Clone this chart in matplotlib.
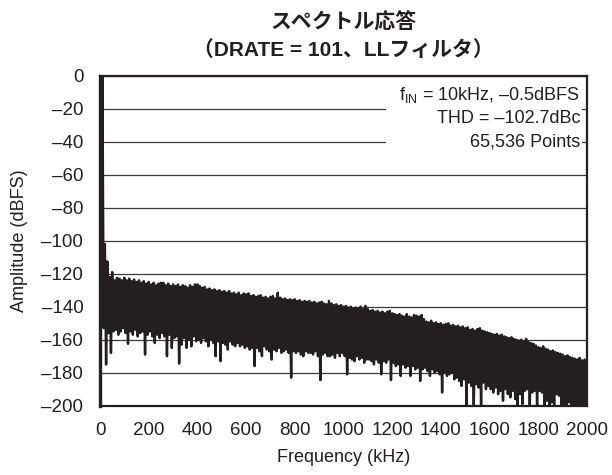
import numpy as np
import matplotlib
matplotlib.use("Agg")
import matplotlib.pyplot as plt
from matplotlib.patches import Rectangle

plt.rcParams["font.family"] = ["Liberation Sans", "Noto Sans CJK JP", "DejaVu Sans"]
plt.rcParams["mathtext.fontset"] = "custom"
plt.rcParams["mathtext.rm"] = "Liberation Sans"
plt.rcParams["mathtext.it"] = "Liberation Sans"

INK = "#231f20"

# FFT spectrum, one column every 10 kHz: the highest bin (peak) and the
# lowest bin (trough, half a column later) inside that column.
bin_start_khz = np.arange(0, 2001, 10)

peak_dbfs = [
    -115, -0.5, -102, -112.5, -122, -119, -124, -122.5, -123, -124,
    -122.5, -124, -123, -124.5, -123.5, -125, -124, -125.5, -124.5, -126,
    -125, -126.5, -125.5, -127, -126, -125.5, -125.5, -127, -126, -127.5,
    -126.5, -127.5, -126.5, -128, -127, -127.5, -128.5, -127, -128, -126.5,
    -126.5, -127.5, -128.5, -128, -129.5, -129, -130, -129.5, -130.5, -130,
    -131, -130.5, -131.5, -130.5, -132, -131.5, -132.5, -131.5, -133, -132,
    -132.5, -132, -133.5, -133, -134, -133.5, -133, -134.5, -134, -135,
    -134, -133.5, -135, -131.5, -134.5, -135.5, -135, -136, -135.5, -136,
    -135.5, -136.5, -136, -137, -136.5, -137, -136.5, -137.5, -137, -138,
    -137.5, -137, -138, -138.5, -136.5, -138, -139, -138.5, -139.5, -139,
    -140, -139.5, -140.5, -140, -141, -140.5, -141, -140, -141.5, -139.5,
    -141.5, -142.5, -142, -143, -142.5, -143.5, -143, -144, -143, -142.5,
    -144, -144.5, -145, -144.5, -145.5, -146, -144.5, -146, -146.5, -145,
    -145.5, -146, -145, -147.5, -149, -149.5, -148.5, -150, -149.5, -150.5,
    -150, -151, -150.5, -150, -151.5, -151, -152, -151.5, -152.5, -152,
    -153, -152.5, -154, -153.5, -154.5, -153.5, -153, -154.5, -155, -155.5,
    -156, -156.5, -157, -156.5, -157.5, -157, -158, -158.5, -159, -158.5,
    -159.5, -160, -160.5, -160, -161, -159.5, -161.5, -162, -162.5, -163.5,
    -164.5, -165, -164, -165.5, -166, -167, -166.5, -167.5, -168, -168.5,
    -169, -170, -169.5, -170.5, -171, -171.5, -172, -171, -172.5, -172,
    -172.5,
]

trough_dbfs = [
    -150, -153, -175, -156, -168, -155, -154, -157, -155, -153,
    -156, -162.5, -155, -157, -154, -158, -156, -155, -169, -157,
    -155, -158, -162, -157, -159, -156, -158, -170, -157, -165,
    -159, -158, -174.5, -163, -159, -165, -160, -164, -158, -161,
    -160, -162, -159, -161, -164, -160, -162, -170, -161, -173,
    -162, -163, -166, -161, -163, -164, -162, -164, -163, -165,
    -164, -166, -165, -176, -165, -167, -170, -164, -166, -167,
    -172, -166, -167, -165, -168, -167, -166, -168, -183, -167,
    -168, -167, -169, -170, -167, -168, -168, -169, -167, -170,
    -184.5, -169, -168, -170, -170, -169, -171, -168, -170, -168,
    -170, -181, -171, -172, -173, -170, -172, -171, -174, -172,
    -172, -173, -175, -172, -174, -181, -173, -174, -172, -184.5,
    -174, -176, -175, -182, -175, -177, -176, -182, -176, -178,
    -177, -185, -178, -177, -179, -182, -178, -180, -179, -181,
    -192, -180, -182, -181, -180, -184, -183, -185, -188, -184,
    -200, -186, -188, -200, -187, -189, -200, -186, -190, -188,
    -190, -192, -189, -193, -191, -197, -190, -193, -195, -191,
    -196, -200, -193, -199, -191, -190, -200, -192, -191, -200,
    -191, -192, -200, -197, -200, -198, -200, -193, -194, -200,
    -200, -200, -198, -200, -200, -200, -199, -200, -200, -200,
    -200,
]

x_ticks = [0, 200, 400, 600, 800, 1000, 1200, 1400, 1600, 1800, 2000]
y_ticks = [0, -20, -40, -60, -80, -100, -120, -140, -160, -180, -200]

title_lines = ["スペクトル応答", "（DRATE = 101、LLフィルタ）"]
notes = [r"$\mathrm{f}_{\mathrm{IN}}$ = 10kHz, –0.5dBFS",
         "THD = –102.7dBc",
         "65,536 Points"]

# interleave peak / trough so the trace zig-zags through each column
n = len(bin_start_khz)
trace_x = np.empty(2 * n)
trace_y = np.empty(2 * n)
trace_x[0::2] = bin_start_khz
trace_x[1::2] = bin_start_khz + 5
trace_y[0::2] = peak_dbfs
trace_y[1::2] = trough_dbfs

fig = plt.figure(figsize=(6.12, 4.75), dpi=100)
ax = fig.add_axes([100 / 612, 1 - 405.7 / 475, 487 / 612, 330 / 475])

ax.plot(trace_x, trace_y, color=INK, lw=1.75, zorder=3)

ax.set_xlim(0, 2000)
ax.set_ylim(-200, 0)
ax.set_xticks(x_ticks)
ax.set_yticks(y_ticks)
ax.set_yticklabels([f"{v}".replace("-", "\u2013") for v in y_ticks])
ax.tick_params(axis="both", length=0, labelsize=13.5, colors=INK)
ax.tick_params(axis="x", pad=12)
ax.tick_params(axis="y", pad=12)

ax.set_axisbelow(True)
ax.yaxis.grid(True, color="#3a3a3a", lw=0.9)
ax.xaxis.grid(False)

for side, lw in (("left", 2.4), ("right", 1.6), ("top", 1.6), ("bottom", 1.6)):
    ax.spines[side].set_linewidth(lw)
    ax.spines[side].set_color(INK)

# white panel behind the measurement notes
ax.add_patch(Rectangle((1175, -52), 804, 49, facecolor="white",
                       edgecolor="none", zorder=1.5))
for i, line in enumerate(notes):
    ax.text(1972, -11.7 - 14.2 * i, line, ha="right", va="center",
            fontsize=13, color=INK, zorder=4)

ax.set_xlabel("Frequency (kHz)", fontsize=13, color=INK)
ax.set_ylabel("Amplitude (dBFS)", fontsize=13, color=INK)
ax.xaxis.set_label_coords(0.5, -(449 - 405.7) / 330)
ax.yaxis.set_label_coords((28 - 100) / 487, 0.5)

fig.text(343.5 / 612, 1 - 23 / 475, title_lines[0], ha="center", va="center",
         fontsize=15, fontweight="bold", color=INK)
fig.text(343.5 / 612, 1 - 50 / 475, title_lines[1], ha="center", va="center",
         fontsize=15, fontweight="bold", color=INK)

fig.savefig("out.png", dpi=100, facecolor="white")
